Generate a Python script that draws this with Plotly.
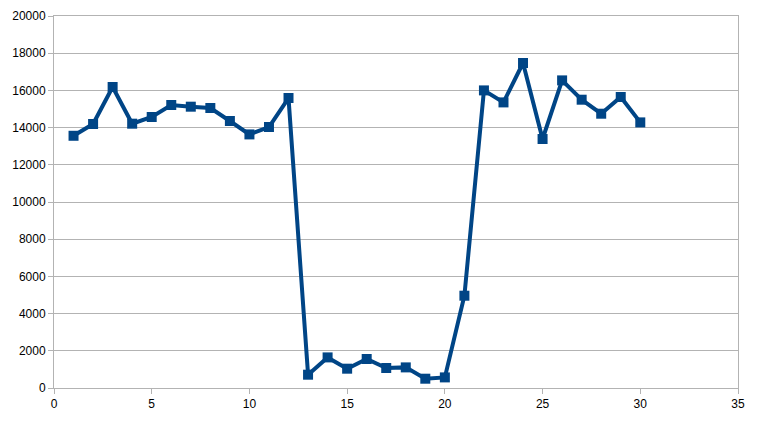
import plotly.graph_objects as go

x_vals = list(range(1, 31))
y_vals = [13560, 14194, 16183, 14210, 14570, 15215, 15124, 15054, 14355, 13634,
          14032, 15591, 715, 1645, 1038, 1559, 1075, 1108, 500, 570,
          4962, 16000, 15355, 17473, 13387, 16538, 15500, 14747, 15645, 14280]

fig = go.Figure()
fig.add_trace(go.Scatter(
    x=x_vals, y=y_vals, mode="lines+markers",
    line=dict(color="#004586", width=4),
    marker=dict(symbol="square", size=10, color="#004586"),
    showlegend=False,
))

axis_common = dict(
    showline=True, linecolor="#b3b3b3", linewidth=1, mirror=True,
    ticks="outside", tickcolor="#b3b3b3", ticklen=5,
    tickfont=dict(family="Liberation Sans", size=12, color="#000000"),
    zeroline=False, automargin=False,
)
fig.update_xaxes(range=[0, 35], dtick=5, showgrid=False, **axis_common)
fig.update_yaxes(range=[0, 20000], dtick=2000, tickformat="d", showgrid=True,
                 gridcolor="#b3b3b3", gridwidth=1, **axis_common)

fig.update_layout(
    width=752, height=406,
    margin=dict(l=46, r=22, t=8, b=26),
    plot_bgcolor="white", paper_bgcolor="white",
)
fig.write_html("out.html")
